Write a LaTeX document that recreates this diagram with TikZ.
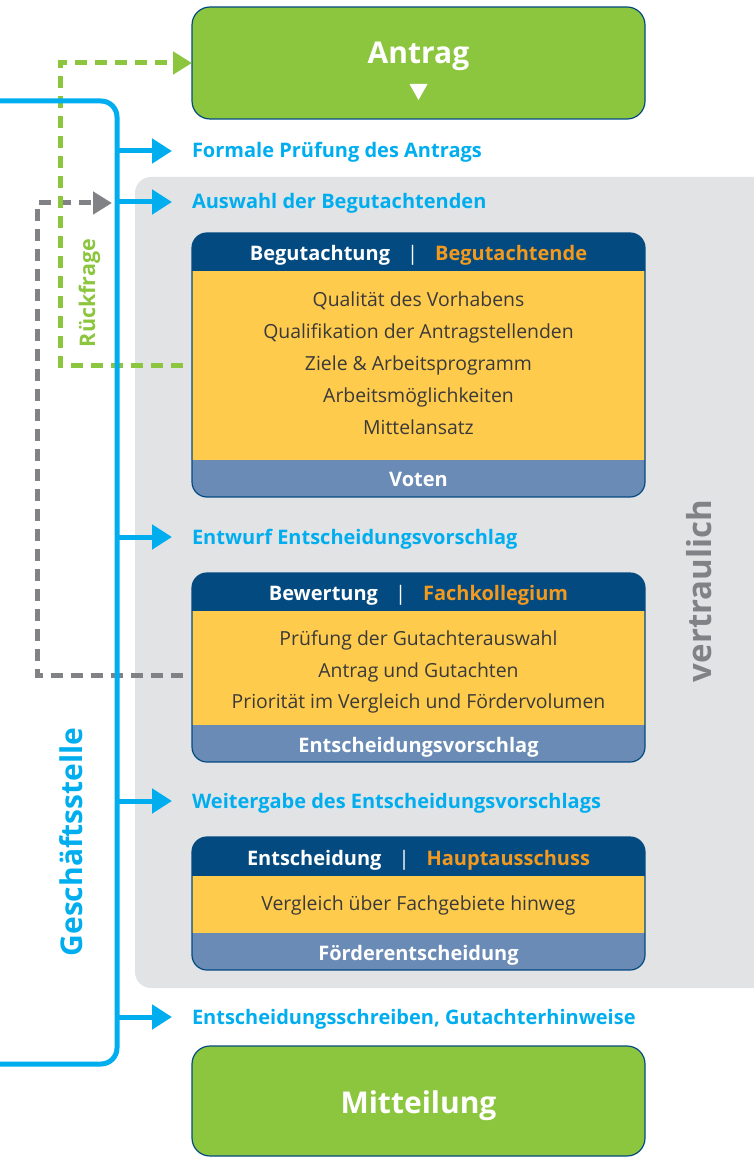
\documentclass[tikz,border=0pt]{standalone}
\usepackage{fontspec}
\setmainfont{Open Sans}
\usetikzlibrary{arrows.meta}

\definecolor{dfgblue}{HTML}{00AEEF}
\definecolor{dfggreen}{HTML}{8CC63F}
\definecolor{navy}{HTML}{034A80}
\definecolor{bandblue}{HTML}{6A8BB6}
\definecolor{boxyellow}{HTML}{FFCB4C}
\definecolor{accent}{HTML}{F39A1E}
\definecolor{areagray}{HTML}{E2E3E5}
\definecolor{dashgray}{HTML}{808285}
\definecolor{bodytext}{HTML}{3A3A3A}

\newcommand\fs[1]{\fontsize{#1pt}{#1pt}\selectfont}

\tikzset{
  every node/.style={inner sep=0pt, outer sep=0pt},
  trunk/.style={draw=dfgblue, line width=5pt, rounded corners=16pt},
  branch/.style={draw=dfgblue, line width=5pt, -{Triangle[length=20pt,width=24pt]}},
  steplabel/.style={anchor=base west, text=dfgblue, font=\bfseries\fs{20}},
  returnline/.style={line width=5pt, dash pattern=on 12pt off 8pt},
  endbox/.style={fill=dfggreen, draw=navy, line width=1.2pt, rounded corners=18pt,
    minimum width=453pt},
  endtitle/.style={anchor=base, text=white, font=\bfseries\fs{30}},
  stageframe/.style={draw=navy, line width=1.2pt, rounded corners=15pt, minimum width=453pt},
  headtext/.style={anchor=base, text=white, font=\bfseries\fs{20}},
  bodyline/.style={anchor=base, text=bodytext, font=\fs{19.4}},
  foottext/.style={anchor=base, text=white, font=\bfseries\fs{20}},
  sidetitle/.style={anchor=base, rotate=90, font=\bfseries}
}

% a stage box: name, top, header bottom, footer top, bottom
\newcommand\stagebox[5]{%
  \begin{scope}
    \clip[rounded corners=15pt] (192,#2) rectangle (645,#5);
    \fill[boxyellow] (192,#2) rectangle (645,#5);
    \fill[navy] (192,#2) rectangle (645,#3);
    \fill[bandblue] (192,#4) rectangle (645,#5);
  \end{scope}
  \node[stageframe, minimum height={(#5-#2)*1pt}] (#1) at (418.5,{(#2+#5)/2}) {};
}
% header line: role | body
\newcommand\headline[2]{#1\hspace{17pt}{\mdseries|}\hspace{17pt}\textcolor{accent}{#2}}

\begin{document}
\begin{tikzpicture}[x=1pt,y=-1pt]
\useasboundingbox (0,0) rectangle (754,1158);

% confidential area
\node[fill=areagray, rounded corners=16pt, minimum width=645pt, minimum height=811pt]
  (conf) at (457.5,582.5) {};
\node[sidetitle, text=dashgray, font=\bfseries\fs{33}] (conflabel) at (711,591) {vertraulich};

% start and end boxes
\node[endbox, minimum height=112pt] (antrag) at (418.5,63) {};
\node[endtitle] (antragtitle) at (418.5,63.5) {Antrag};
\fill[white] (409.5,84) -- (427.5,84) -- (418.5,100) -- cycle;

\node[endbox, minimum height=110pt] (mitteilung) at (418.5,1101) {};
\node[endtitle] (mitteilungtitle) at (418.5,1113) {Mitteilung};

% stage 1: review
\stagebox{begutachtung}{233}{271}{460}{497}
\node[headtext] (h1) at (418.5,260) {\headline{Begutachtung}{Begutachtende}};
\node[bodyline] (b11) at (418.5,306) {Qualität des Vorhabens};
\node[bodyline] (b12) at (418.5,338) {Qualifikation der Antragstellenden};
\node[bodyline] (b13) at (418.5,370) {Ziele \& Arbeitsprogramm};
\node[bodyline] (b14) at (418.5,402) {Arbeitsmöglichkeiten};
\node[bodyline] (b15) at (418.5,434) {Mittelansatz};
\node[foottext] (f1) at (418.5,486) {Voten};

% stage 2: evaluation
\stagebox{bewertung}{573}{611}{725}{762}
\node[headtext] (h2) at (418.5,600.5) {\headline{Bewertung}{Fachkollegium}};
\node[bodyline] (b21) at (418.5,645) {Prüfung der Gutachterauswahl};
\node[bodyline] (b22) at (418.5,677) {Antrag und Gutachten};
\node[bodyline] (b23) at (418.5,708.5) {Priorität im Vergleich und Fördervolumen};
\node[foottext] (f2) at (418.5,752.5) {Entscheidungsvorschlag};

% stage 3: decision
\stagebox{entscheidung}{837}{876}{933}{970}
\node[headtext] (h3) at (418.5,865) {\headline{Entscheidung}{Hauptausschuss}};
\node[bodyline] (b31) at (418.5,910.5) {Vergleich über Fachgebiete hinweg};
\node[foottext] (f3) at (418.5,960.5) {Förderentscheidung};

% return paths
\coordinate (rq) at (183,365);
\coordinate (rg) at (183,675);
\coordinate (rgend) at (112,203);
\draw[returnline, draw=dashgray, -{Triangle[length=19pt,width=22pt,fill=dashgray]}]
  (rg) -- (37,675) -- (37,203) -- (rgend);
\draw[returnline, draw=dfggreen, -{Triangle[length=19pt,width=22pt,fill=dfggreen]}]
  (rq) -- (60,365) -- (60,63) -- (antrag.west);
\node[sidetitle, text=dfggreen, font=\bfseries\fs{21.5}] (rueck) at (95,293) {Rückfrage};

% head office trunk with branches
\coordinate (tin) at (0,101);
\coordinate (tout) at (0,1064);
\draw[trunk] (tin) -- (117,101) -- (117,1064) -- (tout);
\node[sidetitle, text=dfgblue, font=\bfseries\fs{30}] (gs) at (82,842) {Geschäftsstelle};

\foreach \n/\y/\txt in {1/151/Formale Prüfung des Antrags,
                        2/202/Auswahl der Begutachtenden,
                        3/537/Entwurf Entscheidungsvorschlag,
                        4/801/Weitergabe des Entscheidungsvorschlags,
                        5/1017/{Entscheidungsschreiben, Gutachterhinweise}}{
  \coordinate (s\n) at (117,\y);
  \coordinate (e\n) at (172,\y);
  \draw[branch] (s\n) -- (e\n);
  \node[steplabel] (l\n) at (192,\y+7) {\txt};
}
\end{tikzpicture}
\end{document}
